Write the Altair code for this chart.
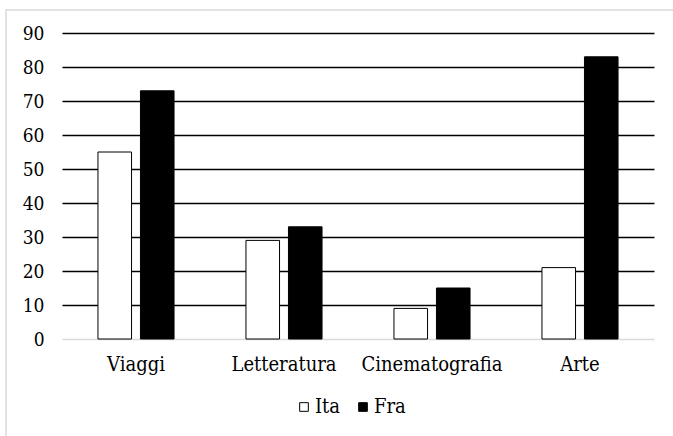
import altair as alt
import pandas as pd

categories = ["Viaggi", "Letteratura", "Cinematografia", "Arte"]
series = ["Ita", "Fra"]
ita_values = [55, 29, 9, 21]
fra_values = [73, 33, 15, 83]
y_ticks = list(range(0, 100, 10))

rows = []
for cat, v in zip(categories, ita_values):
    rows.append({"categoria": cat, "paese": "Ita", "valore": v})
for cat, v in zip(categories, fra_values):
    rows.append({"categoria": cat, "paese": "Fra", "valore": v})
df = pd.DataFrame(rows)

FONT = "DejaVu Serif Condensed"

bars = alt.Chart(df).mark_bar(stroke="black", strokeWidth=1).encode(
    x=alt.X(
        "categoria:N",
        sort=categories,
        title=None,
        scale=alt.Scale(paddingInner=0.486, paddingOuter=0.243),
        axis=alt.Axis(
            labelAngle=0,
            labelFont=FONT,
            labelFontSize=20,
            labelColor="black",
            labelPadding=15,
            ticks=False,
            domainColor="#d9d9d9",
            domainWidth=1.5,
            grid=False,
        ),
    ),
    xOffset=alt.XOffset("paese:N", sort=series, scale=alt.Scale(paddingInner=0.21)),
    y=alt.Y(
        "valore:Q",
        title=None,
        scale=alt.Scale(domain=[0, 90], nice=False),
        axis=alt.Axis(
            values=y_ticks,
            labelFont=FONT,
            labelFontSize=19,
            labelColor="black",
            labelPadding=18,
            ticks=False,
            domain=False,
            gridColor={
                "condition": {"test": "datum.value === 0", "value": "transparent"},
                "value": "black",
            },
            gridWidth=1.4,
        ),
    ),
    fill=alt.Fill(
        "paese:N",
        sort=series,
        scale=alt.Scale(domain=series, range=["white", "black"]),
        legend=alt.Legend(
            title=None,
            orient="none",
            direction="horizontal",
            legendX=232,
            legendY=364,
            symbolType="square",
            symbolSize=75,
            symbolStrokeColor="black",
            symbolStrokeWidth=1,
            labelFont=FONT,
            labelFontSize=20,
            labelColor="black",
            labelOffset=1,
            columnPadding=12,
        ),
    ),
)

# light outer frame of the chart area (left and top edges)
frame = alt.Chart(alt.Data(values=[{}])).mark_rect(
    fill=None, stroke="#d9d9d9", strokeWidth=1.5
).encode(
    x=alt.value(-56),
    x2=alt.value(640),
    y=alt.value(-23),
    y2=alt.value(450),
)

chart = alt.layer(frame, bars).properties(
    width=592,
    height=306,
    autosize=alt.AutoSizeParams(type="none"),
    padding={"left": 62, "top": 33, "right": 19, "bottom": 97},
    background="white",
).configure_view(stroke=None)

chart.save("out.html", embed_options={"renderer": "svg", "actions": False})
